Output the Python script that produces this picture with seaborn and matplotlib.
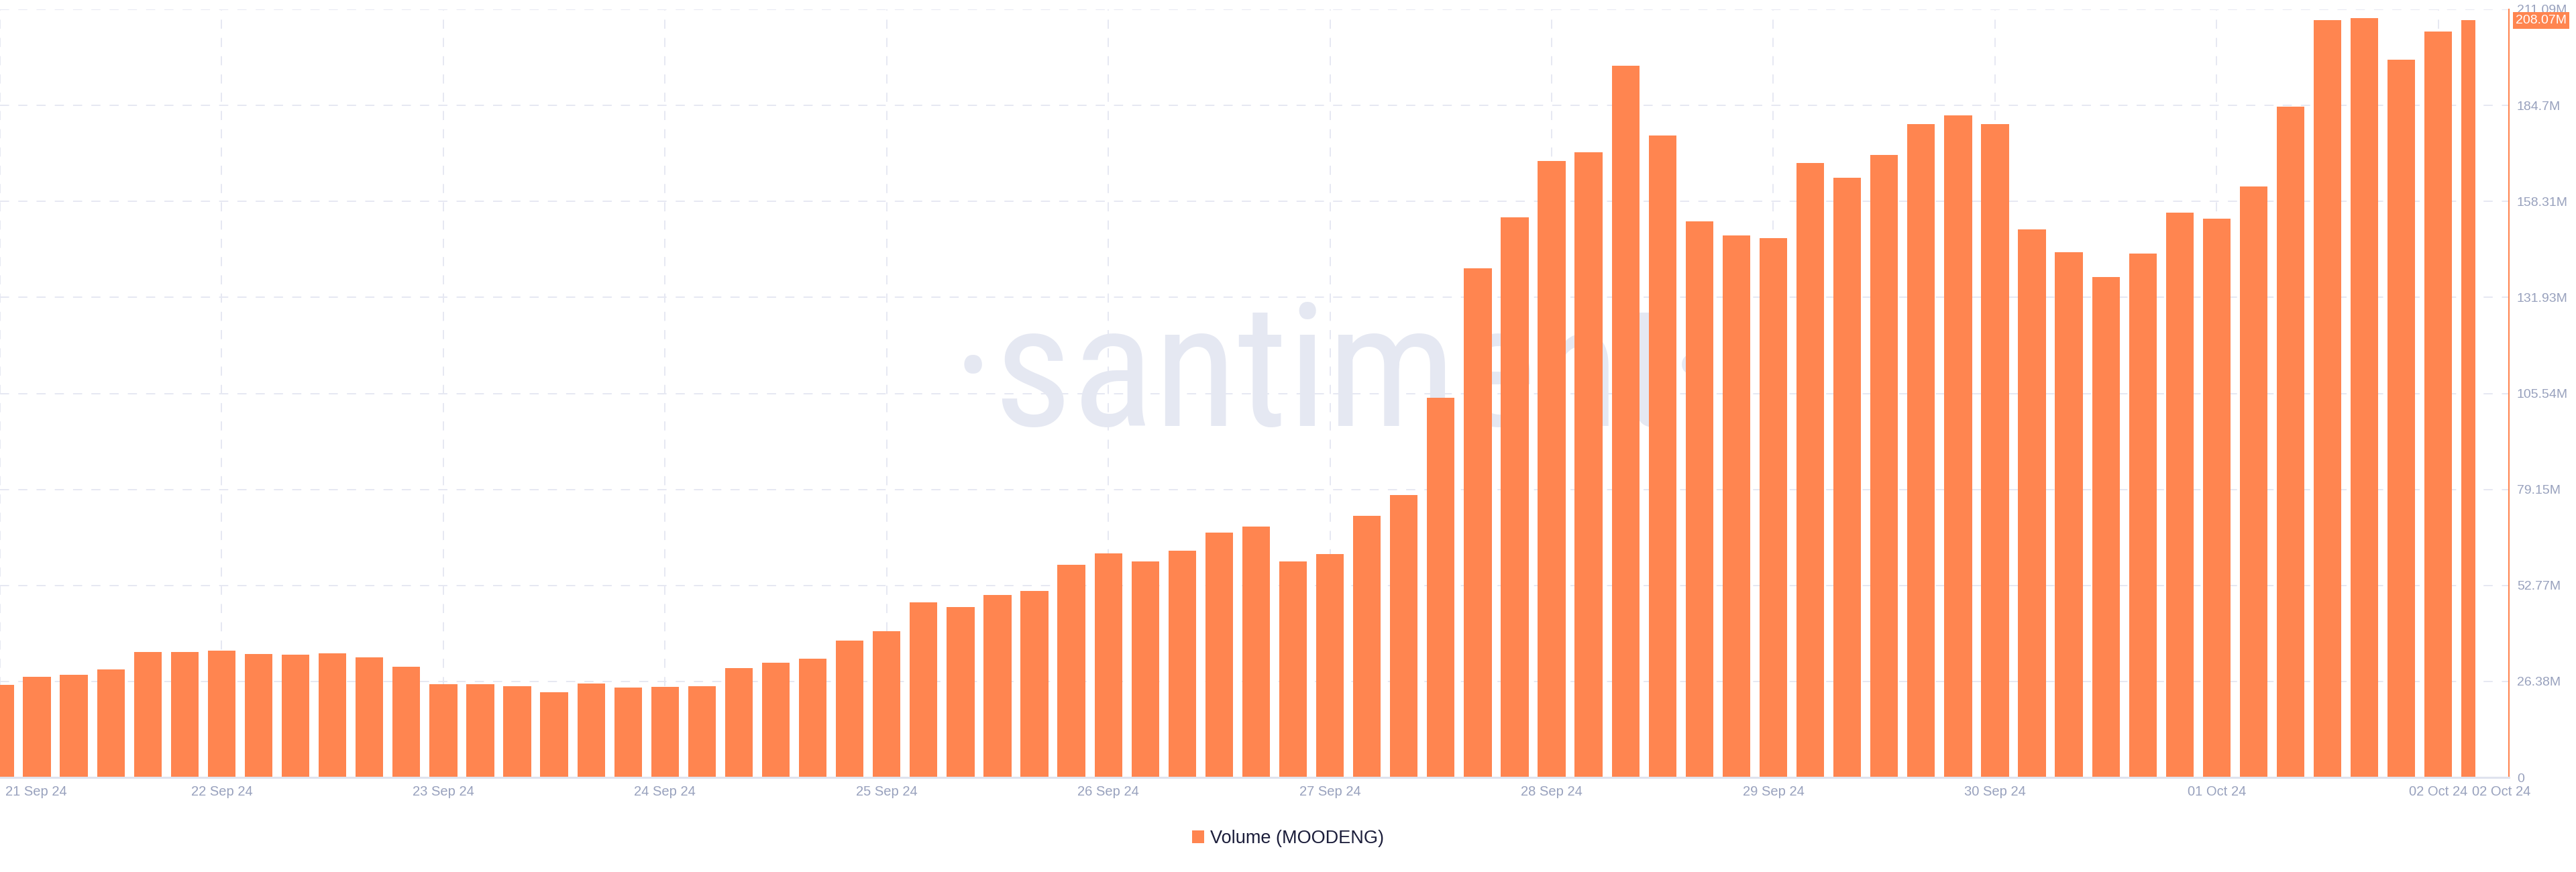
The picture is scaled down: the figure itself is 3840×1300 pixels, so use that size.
import matplotlib
matplotlib.use("Agg")
import matplotlib.pyplot as plt
import matplotlib.transforms as mtransforms
from matplotlib import font_manager
from matplotlib.patches import Rectangle
import seaborn as sns
import pandas as pd

# 4h candles, 21 Sep 00:00 -> 02 Oct 04:00
times = pd.date_range("2024-09-21 00:00", periods=68, freq="4h")
volume_m = [
    25.4, 27.7, 28.2, 29.7, 34.4, 34.5, 34.8, 34.0, 33.7, 34.1, 33.0, 30.4,
    25.7, 25.6, 25.0, 23.4, 25.8, 24.7, 24.8, 25.0, 30.1, 31.6, 32.7, 37.7,
    40.1, 48.1, 46.8, 50.2, 51.3, 58.5, 61.5, 59.4, 62.4, 67.3, 69.0, 59.4,
    61.3, 71.9, 77.6, 104.4, 140.0, 153.9, 169.5, 171.9, 195.6, 176.4, 152.8, 149.0,
    148.2, 168.8, 164.9, 171.0, 179.5, 182.0, 179.5, 150.7, 144.4, 137.6, 144.0, 155.3,
    153.6, 162.4, 184.4, 208.2, 208.7, 197.2, 205.0, 208.07,
]
day_labels = ["21 Sep 24", "22 Sep 24", "23 Sep 24", "24 Sep 24", "25 Sep 24", "26 Sep 24",
              "27 Sep 24", "28 Sep 24", "29 Sep 24", "30 Sep 24", "01 Oct 24", "02 Oct 24"]
last_day_label = "02 Oct 24"
y_ticks = [0, 26.386, 52.773, 79.159, 105.545, 131.931, 158.318, 184.704, 211.09]
y_labels = ["0", "26.38M", "52.77M", "79.15M", "105.54M", "131.93M", "158.31M", "184.7M", "211.09M"]
last_value_label = "208.07M"
legend_label = "Volume (MOODENG)"

ORANGE = "#FF8550"
GRID = "#e6e8f2"
TICK = "#98a1bd"


def pick_font(names):
    # first family that is really installed
    for name in names:
        try:
            font_manager.findfont(font_manager.FontProperties(family=name), fallback_to_default=False)
            return name
        except Exception:
            pass
    return "DejaVu Sans"


sns.set_theme(style="white")
plt.rcParams["font.family"] = ["Liberation Sans", "DejaVu Sans"]
mark_font = pick_font(["Liberation Sans Narrow", "Roboto Condensed", "Open Sans"])

df = pd.DataFrame({"time": times.strftime("%d %b %H:%M"), "volume": volume_m})

fig = plt.figure(figsize=(38.4, 13), dpi=100)
ax = fig.add_axes([0, 141 / 1300, 3740 / 3840, 1145 / 1300])

# watermark behind the bars
ax.text(1420 / 3840, 0.5115, "\u00b7santiment\u00b7", transform=fig.transFigure,
        fontsize=184, family=[mark_font, "DejaVu Sans"],
        color="#e5e8f2", ha="left", va="baseline", zorder=0.6)

sns.barplot(data=df, x="time", y="volume", color=ORANGE, saturation=1, width=0.75,
            linewidth=0, ax=ax, label=legend_label)
if ax.legend_ is not None:
    ax.legend_.remove()

# last candle is still open -> only its left half is drawn
clip = Rectangle((-1, -1000), len(volume_m), 10000, transform=ax.transData)
for p in ax.patches:
    p.set_clip_path(clip)

ax.set_xlim(0, 67.91)
ax.set_ylim(0, 211.09)
ax.set_xlabel("")
ax.set_ylabel("")

ax.set_axisbelow(True)
ax.set_xticks(range(0, len(volume_m) - 1, 6))
ax.set_xticklabels(day_labels)
ax.yaxis.tick_right()
ax.set_yticks(y_ticks)
ax.set_yticklabels(y_labels)
ax.grid(True, axis="both", color=GRID, lw=1.4, ls=(0, (7, 7)))
ax.tick_params(axis="x", length=0, pad=9, labelsize=14.5, labelcolor=TICK)
ax.tick_params(axis="y", length=0, pad=8.5, labelsize=14, labelcolor=TICK)

first = ax.get_xticklabels()[0]
first.set_ha("left")
first.set_transform(first.get_transform() + mtransforms.ScaledTranslation(8 / 100, 0, fig.dpi_scale_trans))

ax.annotate(last_day_label, xy=(67.71, 0), xycoords=("data", "axes fraction"),
            xytext=(0, -9), textcoords="offset points", ha="center", va="top",
            fontsize=14.5, color=TICK, annotation_clip=False)

sns.despine(ax=ax, left=True, top=True, right=False, bottom=False)
ax.spines["right"].set_color(ORANGE)
ax.spines["right"].set_linewidth(1.5)
ax.spines["bottom"].set_color("#dfe3ee")
ax.spines["bottom"].set_linewidth(2.2)

ax.annotate(last_value_label, xy=(1, volume_m[-1]), xycoords=("axes fraction", "data"),
            xytext=(7, 0), textcoords="offset points", ha="left", va="center",
            fontsize=14, color="white", annotation_clip=False,
            bbox=dict(boxstyle="square,pad=0.2", fc=ORANGE, ec="none"))

handles, labels = ax.get_legend_handles_labels()
fig.legend(handles[:1], labels[:1], loc="center", bbox_to_anchor=(0.5, 0.0385),
           frameon=False, fontsize=19.5, handlelength=0.67, handleheight=0.67,
           handletextpad=0.35, labelcolor="#1c1e3b")

fig.savefig("out.png", dpi=100)
